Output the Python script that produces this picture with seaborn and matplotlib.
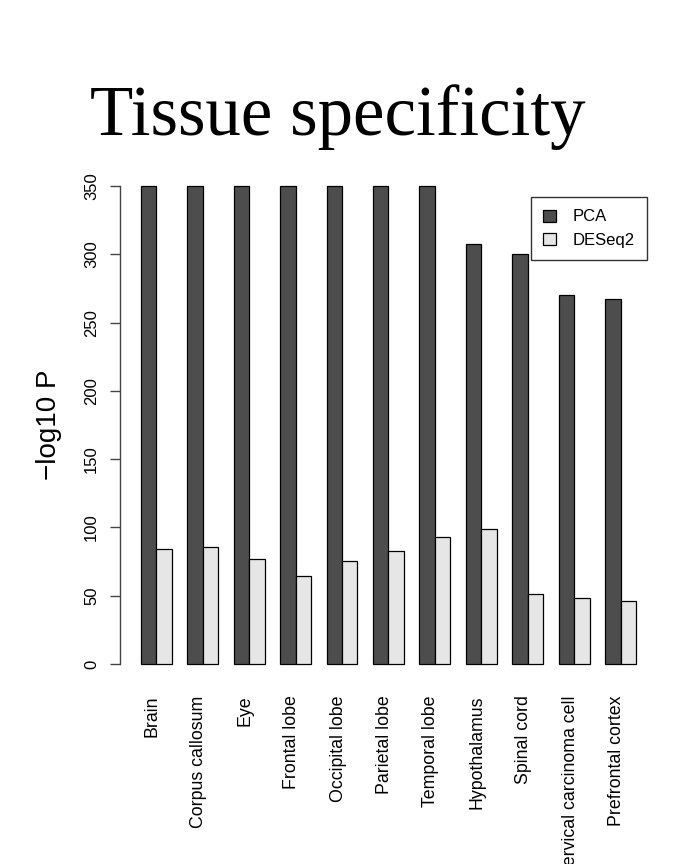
import matplotlib
matplotlib.use("Agg")
import matplotlib.pyplot as plt
import matplotlib.transforms as mtransforms
from matplotlib.patches import Patch
import seaborn as sns
import pandas as pd

# Enrichment of tissue terms, -log10 P for each method
tissues = ["Brain", "Corpus callosum", "Eye", "Frontal lobe", "Occipital lobe",
           "Parietal lobe", "Temporal lobe", "Hypothalamus", "Spinal cord",
           "Cervical carcinoma cell", "Prefrontal cortex"]
pca_vals = [350, 350, 350, 350, 350, 350, 350, 307.5, 300, 270, 267]
deseq2_vals = [84, 85.5, 77, 64.5, 75.5, 83, 93, 99, 51.5, 48.5, 46]
methods = ["PCA", "DESeq2"]
colors = ["#4D4D4D", "#E6E6E6"]
y_ticks = [0, 50, 100, 150, 200, 250, 300, 350]

df = pd.DataFrame({
    "tissue": tissues * 2,
    "value": pca_vals + deseq2_vals,
    "method": [methods[0]] * len(tissues) + [methods[1]] * len(tissues),
})

sns.set_theme(style="white")
plt.rcParams["font.family"] = ["Liberation Sans", "DejaVu Sans"]
plt.rcParams.update({"text.color": "black", "axes.labelcolor": "black",
                     "xtick.color": "black", "ytick.color": "black"})

fig = plt.figure(figsize=(6.76, 8.64), dpi=100)
ax = fig.add_axes([120 / 676, 1 - 683 / 864, 536 / 676, 516 / 864])

sns.barplot(data=df, x="tissue", y="value", hue="method", order=tissues,
            hue_order=methods, palette=colors, width=2 / 3, saturation=1,
            edgecolor="black", linewidth=0.9, ax=ax, legend=False)

ax.set_xlim(-0.78, 10.76)
ax.set_ylim(-14, 364)

for s in ["top", "right", "bottom"]:
    ax.spines[s].set_visible(False)
ax.spines["left"].set_bounds(0, 350)
ax.spines["left"].set_color("#444444")
ax.spines["left"].set_linewidth(1.0)

ax.set_yticks(y_ticks)
ax.set_yticklabels([str(t) for t in y_ticks], rotation=90, va="center", fontsize=12)
ax.tick_params(axis="y", left=True, length=7, width=1.0, color="#444444", pad=8)
ax.tick_params(axis="x", bottom=False, pad=3)
ax.set_xticks(range(len(tissues)))
ax.set_xticklabels(tissues, rotation=90, va="top", ha="center", fontsize=12.8)
shift = mtransforms.ScaledTranslation(-4 / 100, 0, fig.dpi_scale_trans)
for lab in ax.get_xticklabels():
    lab.set_transform(lab.get_transform() + shift)

ax.set_xlabel("")
ax.set_ylabel("\u2212log10 P", fontsize=20, labelpad=16)

handles = [Patch(facecolor=c, edgecolor="black", linewidth=0.9) for c in colors]
leg = ax.legend(handles, methods, loc="upper right", bbox_to_anchor=(0.983, 0.942),
                borderaxespad=0, frameon=True, fancybox=False, fontsize=12,
                handlelength=0.75, handleheight=0.75, handletextpad=1.0,
                borderpad=0.75, labelspacing=0.5, framealpha=1)
leg.get_frame().set_edgecolor("#333333")
leg.get_frame().set_linewidth(1.0)

fig.text(0.5, 1 - 135 / 864, "Tissue specificity", ha="center", va="baseline",
         fontsize=51, color="black", family=["Liberation Serif", "DejaVu Serif"])

fig.savefig("out.png", dpi=100, facecolor="white")
